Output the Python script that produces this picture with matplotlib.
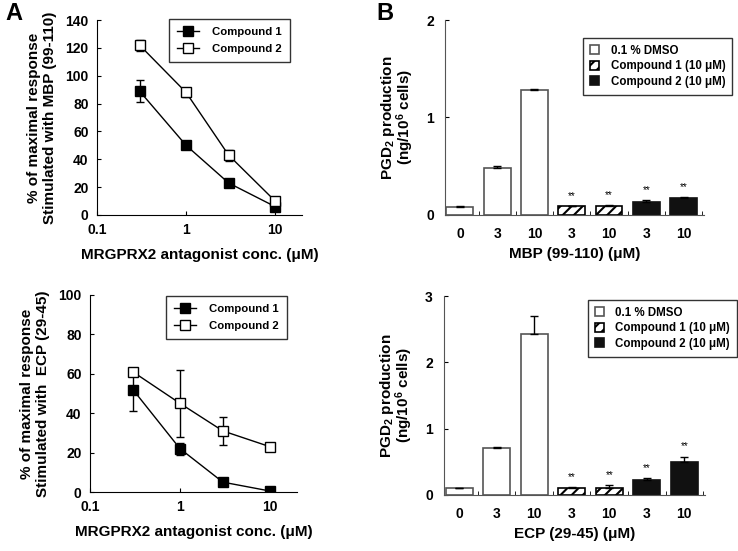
import matplotlib
matplotlib.use("Agg")
import matplotlib.pyplot as plt
from matplotlib.lines import Line2D
import numpy as np

plt.rcParams["font.family"] = ["Liberation Sans", "DejaVu Sans"]
plt.rcParams["font.weight"] = "bold"
plt.rcParams["axes.labelweight"] = "bold"
plt.rcParams["mathtext.fontset"] = "custom"
plt.rcParams["mathtext.rm"] = "Liberation Sans:bold"
plt.rcParams["mathtext.bf"] = "Liberation Sans:bold"
plt.rcParams["mathtext.default"] = "bf"
plt.rcParams["hatch.linewidth"] = 1.5

# ---- data: panel A (dose response) ----
conc = [0.3, 1, 3, 10]
mbp_c1 = [89, 50, 23, 6]
mbp_c1_err = [8, 2, 1, 3]
mbp_c2 = [122, 88, 43, 10]
mbp_c2_err = [4, 3, 4, 2]
ecp_c1 = [52, 22, 5, 0.5]
ecp_c1_err = [11, 3, 1, 0.5]
ecp_c2 = [61, 45, 31, 23]
ecp_c2_err = [1, 17, 7, 1]

# ---- data: panel B (PGD2 production) ----
bar_labels = ["0", "3", "10", "3", "10", "3", "10"]
bar_groups = ["dmso", "dmso", "dmso", "c1", "c1", "c2", "c2"]
mbp_pgd2 = [0.08, 0.48, 1.28, 0.09, 0.09, 0.13, 0.17]
mbp_pgd2_err = [0.01, 0.02, 0.01, 0.005, 0.01, 0.02, 0.01]
ecp_pgd2 = [0.10, 0.71, 2.43, 0.10, 0.10, 0.23, 0.50]
ecp_pgd2_err = [0.01, 0.02, 0.27, 0.02, 0.05, 0.03, 0.08]
sig_mask = [False, False, False, True, True, True, True]

W, H = 738, 551
fig = plt.figure(figsize=(W / 100, H / 100), dpi=100)


def px_axes(left, right, top, bottom):
    return fig.add_axes([left / W, 1 - bottom / H, (right - left) / W, (bottom - top) / H])


def dose_panel(ax, c1, c1e, c2, c2e, ymax, ystep, ylabel, leg_anchor):
    ax.errorbar(conc, c1, yerr=c1e, color="black", lw=1, marker="s", ms=7,
                mfc="black", mec="black", capsize=3, elinewidth=1)
    ax.errorbar(conc, c2, yerr=c2e, color="black", lw=1, marker="s", ms=7,
                mfc="white", mec="black", capsize=3, elinewidth=1)
    ax.set_xscale("log")
    ax.set_xlim(0.1, 20)
    ax.set_ylim(0, ymax)
    ax.set_xticks([0.1, 1, 10], ["0.1", "1", "10"])
    ax.xaxis.set_minor_locator(matplotlib.ticker.NullLocator())
    ax.set_yticks(np.arange(0, ymax + 1, ystep))
    ax.spines[["top", "right"]].set_visible(False)
    ax.tick_params(direction="in", length=3, labelsize=10, pad=6)
    ax.set_xlabel("MRGPRX2 antagonist conc. (\u03bcM)", fontsize=11, labelpad=8)
    ax.set_ylabel(ylabel, fontsize=11, labelpad=6)
    handles = [
        Line2D([], [], color="black", lw=1, marker="s", ms=7, mfc="black", mec="black"),
        Line2D([], [], color="black", lw=1, marker="s", ms=7, mfc="white", mec="black"),
    ]
    leg = ax.legend(handles, ["Compound 1", "Compound 2"], loc="upper right",
                    bbox_to_anchor=leg_anchor, fontsize=8.2,
                    frameon=True, fancybox=False, edgecolor="black",
                    handlelength=2.0, handletextpad=1.1, borderpad=0.7,
                    labelspacing=0.6, borderaxespad=0)
    leg.get_frame().set_linewidth(1)


def bar_panel(ax, vals, errs, ymax, xlabel, leg_anchor):
    x = np.arange(len(vals))
    styles = {
        "dmso": dict(color="white", edgecolor="#555555", hatch=None),
        "c1": dict(color="white", edgecolor="black", hatch="///"),
        "c2": dict(color="#111111", edgecolor="#111111", hatch=None),
    }
    names = {"dmso": "0.1 % DMSO", "c1": "Compound 1 (10 \u03bcM)",
             "c2": "Compound 2 (10 \u03bcM)"}
    seen = set()
    for xi, v, e, g in zip(x, vals, errs, bar_groups):
        st = styles[g]
        lab = names[g] if g not in seen else None
        seen.add(g)
        ax.bar(xi, v, width=0.72, color=st["color"], edgecolor=st["edgecolor"],
               hatch=st["hatch"], linewidth=1.2, label=lab, zorder=2)
        ax.errorbar(xi, v, yerr=[[0], [e]], color="black", capsize=3,
                    elinewidth=1, lw=0, zorder=3)
    for xi, v, e, s in zip(x, vals, errs, sig_mask):
        if s:
            ax.text(xi, v + e + ymax * 0.025, "**", ha="center", va="bottom", fontsize=7,
                    fontweight="normal")
    ax.set_xlim(-0.4, 6.55)
    ax.set_ylim(0, ymax)
    ax.set_yticks(np.arange(0, ymax + 1, 1))
    ax.set_xticks(x, bar_labels)
    ax.set_xticks(np.arange(0.5, 7, 1), minor=True)
    ax.tick_params(axis="x", which="major", length=0, labelsize=10, pad=9)
    ax.tick_params(axis="x", which="minor", direction="in", length=3)
    ax.tick_params(axis="y", direction="in", length=3, labelsize=10, pad=8)
    ax.spines[["top", "right"]].set_visible(False)
    ax.spines["left"].set_color("#555555")
    ax.spines["bottom"].set_color("#555555")
    ax.set_xlabel(xlabel, fontsize=11, labelpad=4)
    ax.set_ylabel("PGD$_2$ production\n(ng/10$^6$ cells)", fontsize=11, labelpad=7,
                  linespacing=0.85)
    leg = ax.legend(loc="upper right", bbox_to_anchor=leg_anchor, fontsize=8.3,
                    frameon=True, fancybox=False, edgecolor="black",
                    handlelength=0.8, handleheight=0.8, borderpad=0.6,
                    labelspacing=0.3, handletextpad=1.0, borderaxespad=0)
    leg.get_frame().set_linewidth(1)


ax1 = px_axes(97, 302, 20, 215)
dose_panel(ax1, mbp_c1, mbp_c1_err, mbp_c2, mbp_c2_err, 140, 20,
           "% of maximal response\nStimulated with MBP (99-110)", (0.94, 1.005))
ax2 = px_axes(90, 297, 295, 492)
dose_panel(ax2, ecp_c1, ecp_c1_err, ecp_c2, ecp_c2_err, 100, 20,
           "% of maximal response\nStimulated with  ECP (29-45)", (0.95, 0.995))
ax3 = px_axes(445, 704, 20, 215)
bar_panel(ax3, mbp_pgd2, mbp_pgd2_err, 2, "MBP (99-110) (\u03bcM)", (1.11, 0.908))
ax4 = px_axes(444, 705, 296, 495)
bar_panel(ax4, ecp_pgd2, ecp_pgd2_err, 3, "ECP (29-45) (\u03bcM)", (1.123, 0.98))

fig.text(5 / W, 1 - 14 / H, "A", fontsize=17, fontweight="bold", va="center")
fig.text(376 / W, 1 - 14 / H, "B", fontsize=17, fontweight="bold", va="center")

fig.savefig("out.png", dpi=100)
